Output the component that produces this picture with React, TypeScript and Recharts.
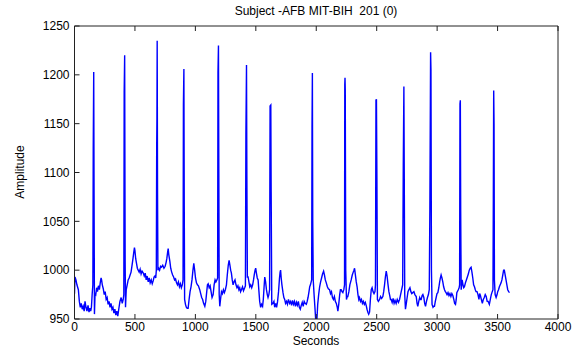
import { LineChart, Line, XAxis, YAxis } from "recharts";

const TITLE = "Subject -AFB MIT-BIH  201 (0)";
const X_LABEL = "Seconds";
const Y_LABEL = "Amplitude";

const xTicks = [0, 500, 1000, 1500, 2000, 2500, 3000, 3500, 4000];
const yTicks = [950, 1000, 1050, 1100, 1150, 1200, 1250];

// [sample, amplitude]
const trace: [number, number][] = [
  [0, 976], [4, 993], [12, 990], [20, 985], [32, 980], [40, 968], [48, 962], [56, 966],
  [64, 960], [72, 963], [80, 958], [87, 968], [95, 962], [103, 958], [112, 964], [120, 957],
  [128, 961], [134, 958], [140, 962], [146, 975], [152, 985], [155, 1125], [159, 1203], [162, 1076],
  [165, 955], [170, 976], [176, 975], [183, 982], [190, 978], [198, 984], [206, 980], [214, 988],
  [220, 992], [224, 990], [230, 985], [238, 981], [246, 975], [254, 978], [262, 970], [270, 972],
  [278, 965], [286, 968], [294, 962], [302, 966], [310, 960], [318, 962], [326, 956], [334, 960],
  [342, 954], [350, 958], [358, 953], [366, 960], [376, 968], [386, 972], [395, 966], [403, 970],
  [408, 975], [411, 1183], [415, 1220], [419, 1010], [422, 962], [428, 980], [436, 985], [444, 990],
  [452, 992], [460, 995], [468, 998], [476, 1005], [484, 1012], [490, 1018], [496, 1023], [500, 1020],
  [506, 1012], [513, 1007], [520, 1002], [527, 1000], [535, 998], [543, 1001], [551, 996], [559, 999],
  [569, 997], [577, 994], [585, 997], [593, 990], [601, 994], [610, 988], [618, 992], [626, 987],
  [635, 990], [643, 986], [651, 989], [658, 993], [665, 994], [672, 992], [677, 1000], [680, 1126],
  [682, 1156], [684, 1235], [687, 1080], [690, 1000], [696, 1002], [704, 1000], [712, 1004], [720, 1003],
  [730, 1005], [740, 1002], [750, 1004], [758, 1008], [764, 1012], [770, 1018], [775, 1022], [780, 1016],
  [789, 1009], [796, 1002], [804, 998], [812, 995], [820, 993], [828, 990], [836, 991], [844, 987],
  [852, 985], [860, 988], [868, 983], [876, 986], [884, 982], [892, 985], [898, 990], [901, 1170],
  [905, 1206], [908, 1065], [911, 970], [918, 965], [925, 962], [932, 961], [940, 961], [948, 970],
  [956, 978], [964, 983], [972, 990], [980, 1000], [987, 1007], [994, 1000], [1001, 992], [1009, 987],
  [1017, 985], [1025, 984], [1036, 980], [1044, 976], [1052, 972], [1060, 970], [1068, 966], [1078, 963],
  [1086, 968], [1094, 978], [1100, 985], [1106, 986], [1114, 982], [1122, 984], [1130, 978], [1138, 972],
  [1147, 975], [1155, 985], [1163, 990], [1170, 988], [1178, 990], [1184, 992], [1187, 1203], [1191, 1230],
  [1194, 1100], [1197, 975], [1202, 963], [1208, 970], [1216, 978], [1224, 976], [1232, 980], [1240, 977],
  [1248, 980], [1257, 985], [1264, 995], [1272, 1005], [1279, 1010], [1286, 1005], [1292, 1000], [1298, 997],
  [1305, 990], [1312, 985], [1320, 988], [1328, 990], [1336, 985], [1344, 982], [1352, 984], [1360, 980],
  [1367, 982], [1374, 978], [1381, 980], [1390, 983], [1398, 979], [1408, 982], [1414, 984], [1418, 1140],
  [1423, 1210], [1426, 1096], [1430, 993], [1436, 993], [1443, 988], [1450, 983], [1458, 985], [1466, 982],
  [1474, 985], [1481, 990], [1488, 996], [1494, 1000], [1499, 1002], [1505, 997], [1512, 992], [1519, 990],
  [1526, 978], [1532, 968], [1540, 962], [1548, 965], [1556, 963], [1562, 970], [1568, 982], [1574, 993],
  [1581, 988], [1588, 980], [1595, 975], [1601, 972], [1608, 975], [1614, 980], [1618, 1168], [1624, 1169],
  [1627, 1080], [1632, 965], [1642, 966], [1650, 968], [1656, 962], [1664, 966], [1672, 962], [1680, 968],
  [1688, 978], [1696, 992], [1701, 998], [1705, 1000], [1710, 992], [1716, 985], [1725, 977], [1732, 972],
  [1739, 970], [1746, 966], [1754, 968], [1762, 965], [1770, 970], [1780, 966], [1788, 968], [1796, 964],
  [1804, 969], [1812, 965], [1820, 968], [1828, 963], [1836, 967], [1844, 964], [1852, 968], [1860, 962],
  [1868, 960], [1876, 964], [1884, 967], [1892, 963], [1900, 968], [1908, 966], [1918, 965], [1925, 968],
  [1932, 972], [1940, 978], [1946, 983], [1952, 985], [1958, 988], [1962, 990], [1965, 1146], [1968, 1202],
  [1971, 1050], [1975, 990], [1982, 975], [1990, 960], [1996, 948], [2000, 945], [2005, 948], [2012, 965],
  [2020, 975], [2028, 983], [2036, 988], [2044, 992], [2052, 996], [2061, 999], [2068, 995], [2075, 990],
  [2083, 987], [2092, 983], [2100, 981], [2110, 980], [2118, 976], [2126, 978], [2134, 972], [2142, 970],
  [2150, 973], [2158, 968], [2166, 966], [2174, 962], [2179, 958], [2186, 965], [2194, 975], [2200, 980],
  [2206, 980], [2213, 978], [2220, 977], [2228, 980], [2234, 985], [2236, 1190], [2238, 1197], [2240, 1185],
  [2244, 1000], [2250, 970], [2256, 973], [2261, 973], [2270, 978], [2278, 985], [2289, 990], [2298, 995],
  [2306, 998], [2312, 1000], [2317, 1002], [2324, 995], [2331, 988], [2338, 983], [2345, 975], [2352, 970],
  [2358, 972], [2366, 968], [2374, 970], [2382, 966], [2390, 968], [2398, 965], [2406, 967], [2413, 964],
  [2420, 960], [2427, 957], [2434, 955], [2441, 957], [2448, 970], [2455, 980], [2462, 982], [2470, 978],
  [2478, 976], [2486, 978], [2490, 985], [2494, 1174], [2498, 1175], [2502, 1090], [2506, 970], [2514, 968],
  [2524, 970], [2532, 973], [2541, 971], [2551, 973], [2558, 978], [2565, 985], [2572, 993], [2579, 999],
  [2586, 994], [2593, 986], [2601, 978], [2608, 974], [2614, 970], [2620, 970], [2628, 967], [2636, 971],
  [2644, 966], [2652, 969], [2661, 966], [2670, 970], [2680, 967], [2689, 970], [2696, 974], [2703, 978],
  [2710, 982], [2715, 985], [2720, 1108], [2725, 1188], [2728, 1100], [2732, 975], [2738, 960], [2744, 965],
  [2752, 972], [2759, 978], [2766, 980], [2775, 982], [2783, 978], [2790, 976], [2799, 977], [2808, 978],
  [2816, 975], [2827, 973], [2834, 966], [2840, 963], [2848, 968], [2856, 972], [2862, 970], [2868, 970],
  [2876, 974], [2882, 975], [2890, 972], [2897, 966], [2904, 963], [2912, 968], [2920, 972], [2928, 975],
  [2935, 980], [2940, 1063], [2946, 1223], [2949, 1205], [2953, 1000], [2958, 965], [2966, 962], [2972, 963],
  [2978, 963], [2985, 968], [2992, 972], [2999, 976], [3006, 977], [3014, 982], [3021, 988], [3027, 992],
  [3033, 995], [3040, 992], [3047, 988], [3054, 983], [3061, 980], [3068, 978], [3074, 977], [3082, 975],
  [3090, 977], [3098, 974], [3106, 976], [3114, 973], [3122, 976], [3130, 974], [3138, 970], [3145, 966],
  [3152, 965], [3158, 970], [3163, 977], [3175, 980], [3182, 982], [3186, 985], [3189, 1170], [3192, 1174],
  [3195, 1060], [3199, 980], [3207, 990], [3214, 985], [3220, 982], [3226, 983], [3234, 987], [3242, 990],
  [3250, 993], [3258, 996], [3266, 1000], [3274, 1002], [3281, 1003], [3288, 998], [3295, 992], [3302, 985],
  [3309, 983], [3316, 980], [3322, 978], [3330, 978], [3338, 975], [3346, 970], [3352, 976], [3358, 974],
  [3366, 970], [3374, 966], [3382, 970], [3390, 972], [3398, 975], [3406, 973], [3414, 968], [3422, 968],
  [3432, 965], [3440, 970], [3448, 975], [3456, 978], [3462, 980], [3465, 1073], [3468, 1184], [3471, 1149],
  [3474, 990], [3480, 975], [3488, 972], [3496, 975], [3501, 978], [3508, 980], [3515, 983], [3522, 985],
  [3529, 987], [3536, 990], [3543, 995], [3550, 1000], [3556, 1000], [3563, 995], [3570, 990], [3577, 985],
  [3584, 980], [3592, 978], [3599, 977],
];

const data = trace.map(([t, v]) => ({ t, v }));

const FONT = "'Liberation Sans', Arial, sans-serif";
const tickStyle = { fill: "#000", fontSize: 12, fontFamily: FONT };
const axisLine = { stroke: "#222", strokeWidth: 1 };

export default function App() {
  return (
    <div
      style={{
        position: "fixed",
        left: 0,
        top: 0,
        width: 584,
        height: 349,
        background: "#fff",
        fontFamily: FONT,
        color: "#000",
      }}
    >
      <LineChart
        width={584}
        height={349}
        data={data}
        margin={{ top: 25, right: 25, bottom: 0, left: 0 }}
      >
        <XAxis
          xAxisId="bottom"
          dataKey="t"
          type="number"
          domain={[0, 4000]}
          ticks={xTicks}
          allowDataOverflow
          height={30}
          tickSize={-5}
          tickMargin={8}
          tick={tickStyle}
          axisLine={axisLine}
          tickLine={axisLine}
        />
        <XAxis
          xAxisId="top"
          orientation="top"
          dataKey="t"
          type="number"
          domain={[0, 4000]}
          ticks={xTicks}
          height={1}
          tickSize={-5}
          tickFormatter={() => ""}
          axisLine={axisLine}
          tickLine={axisLine}
        />
        <YAxis
          yAxisId="left"
          type="number"
          domain={[950, 1250]}
          ticks={yTicks}
          allowDataOverflow
          width={74.5}
          tickSize={-5}
          tickMargin={10}
          tick={tickStyle}
          axisLine={axisLine}
          tickLine={axisLine}
        />
        <YAxis
          yAxisId="right"
          orientation="right"
          type="number"
          domain={[950, 1250]}
          ticks={yTicks}
          width={1}
          tickSize={-5}
          tickFormatter={() => ""}
          axisLine={axisLine}
          tickLine={axisLine}
        />
        <Line
          xAxisId="bottom"
          yAxisId="left"
          dataKey="v"
          type="linear"
          stroke="#0000ff"
          strokeWidth={1.4}
          dot={false}
          isAnimationActive={false}
        />
      </LineChart>
      <div
        style={{
          position: "absolute",
          left: 116,
          width: 400,
          top: 4,
          textAlign: "center",
          fontSize: 12,
          lineHeight: "14px",
          whiteSpace: "pre",
        }}
      >
        {TITLE}
      </div>
      <div
        style={{
          position: "absolute",
          left: 216,
          width: 200,
          top: 334,
          textAlign: "center",
          fontSize: 12,
          lineHeight: "14px",
        }}
      >
        {X_LABEL}
      </div>
      <div
        style={{
          position: "absolute",
          left: -35,
          width: 110,
          top: 165,
          textAlign: "center",
          fontSize: 12,
          lineHeight: "14px",
          transform: "rotate(-90deg)",
        }}
      >
        {Y_LABEL}
      </div>
    </div>
  );
}
